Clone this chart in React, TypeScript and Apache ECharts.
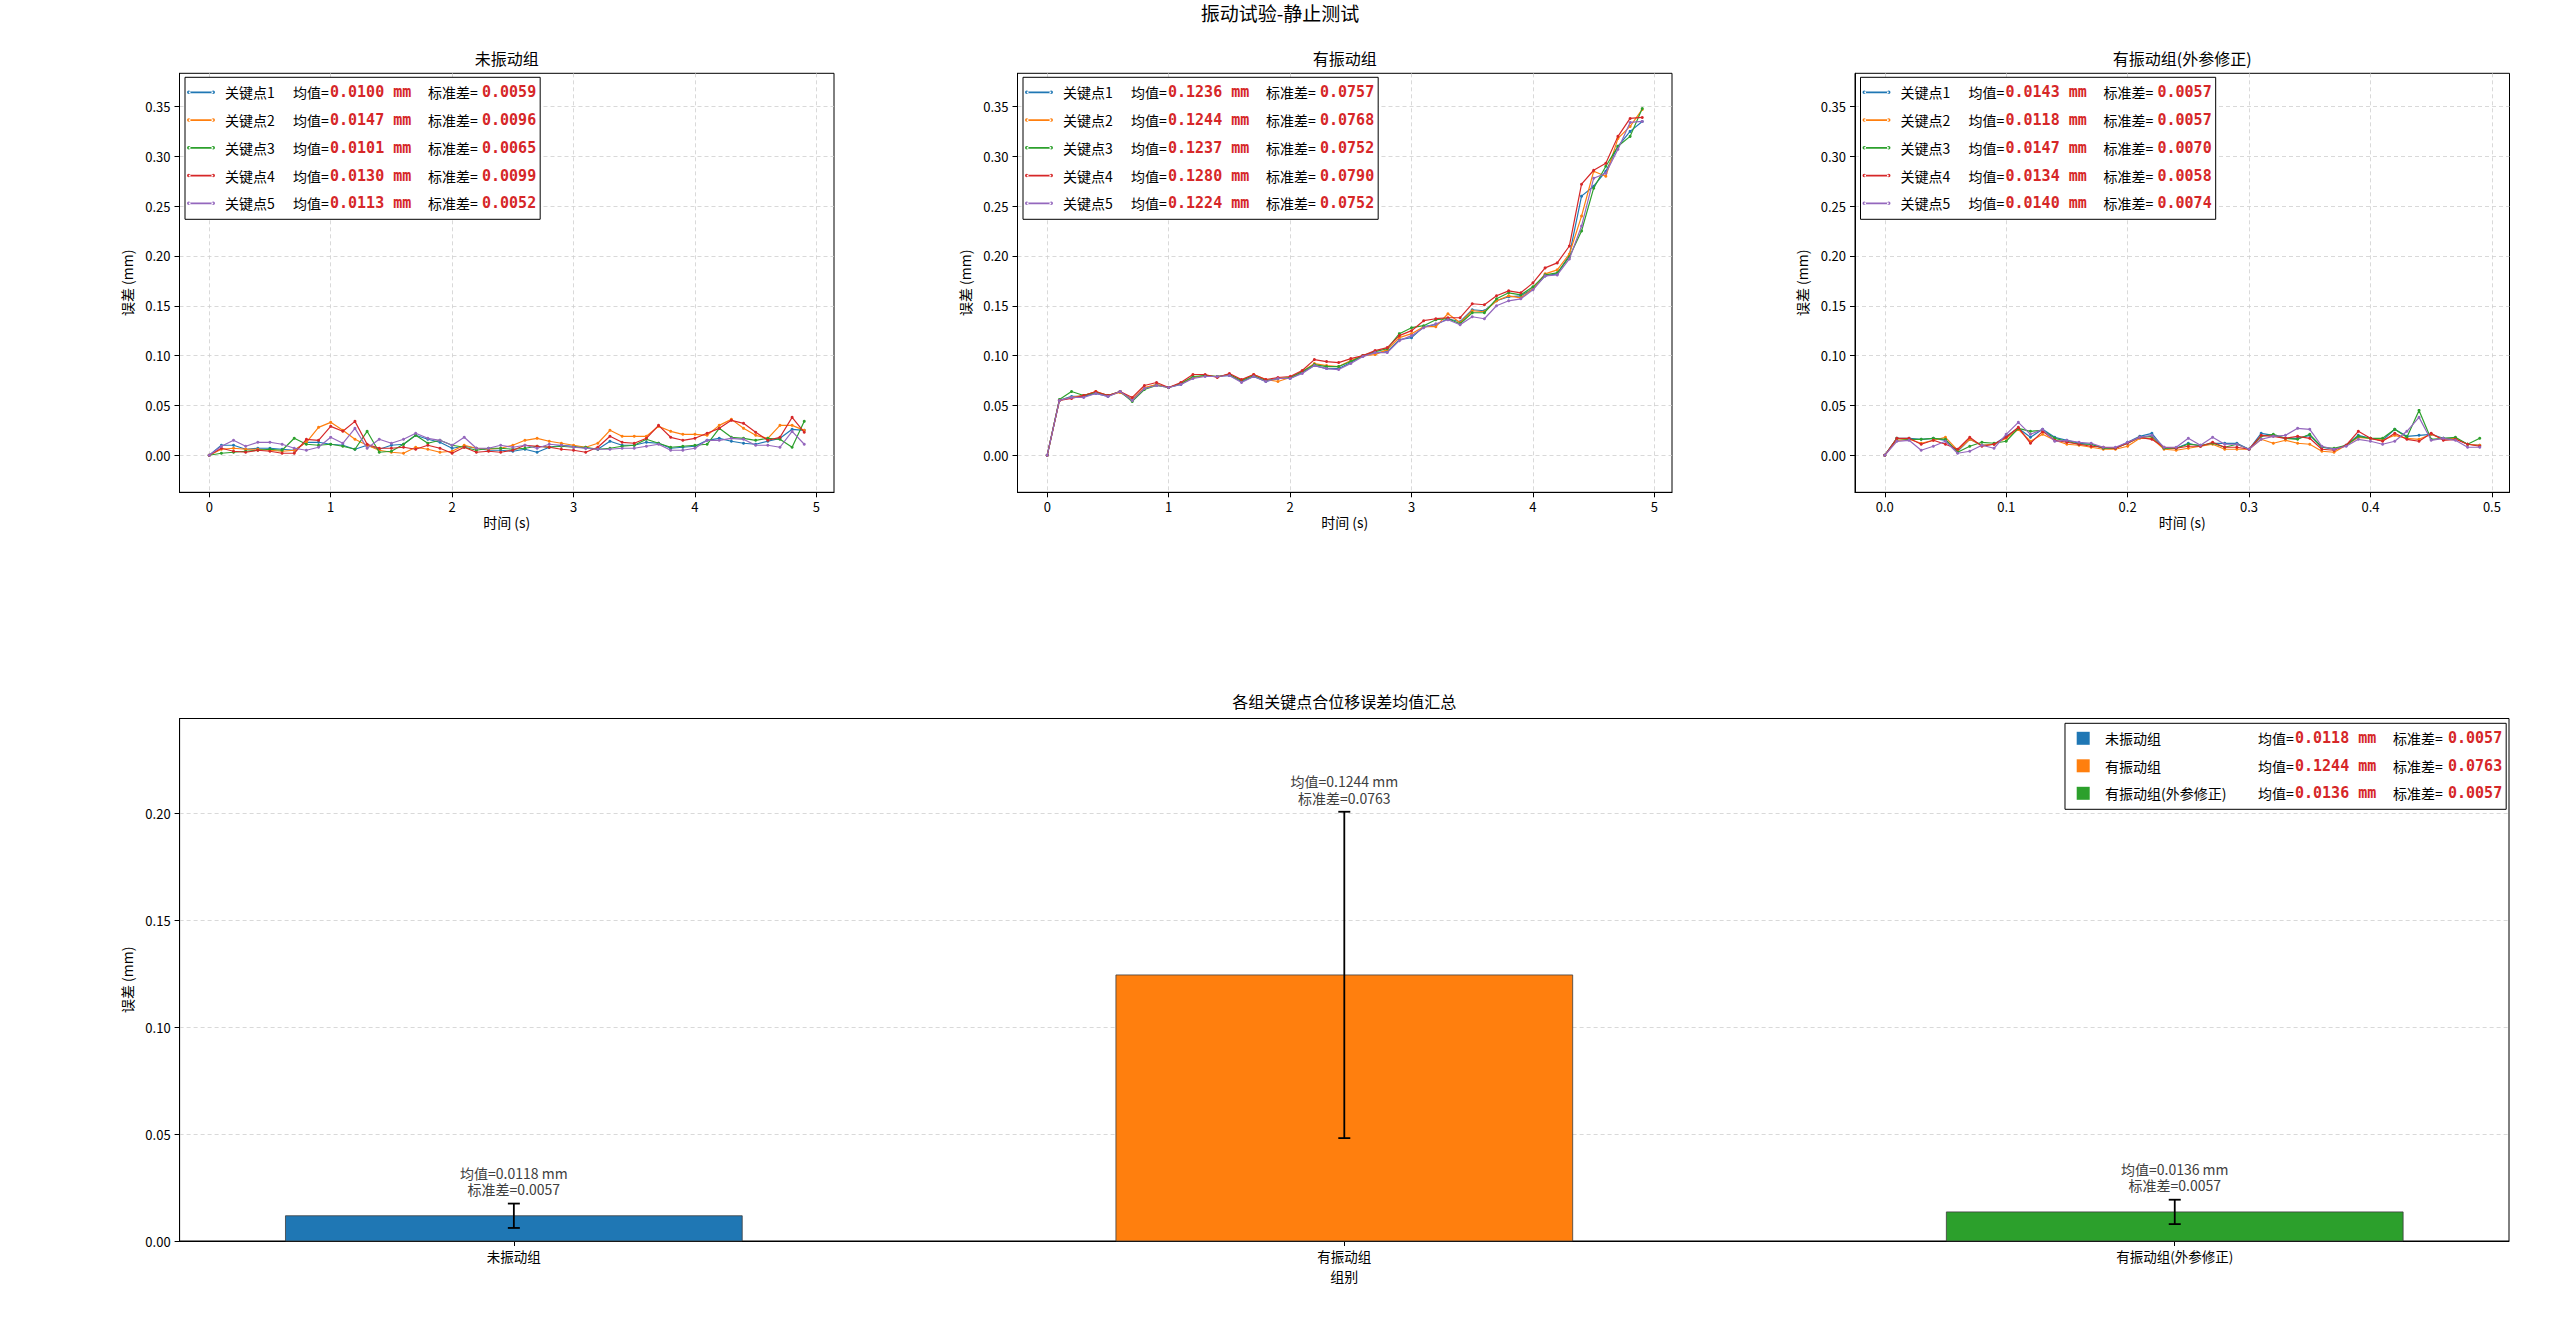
import React, { useEffect, useRef } from 'react';
import * as echarts from 'echarts';

// ---- time bases ----
const TIME_5S = [
  0, 0.1, 0.2, 0.3, 0.4, 0.5, 0.6, 0.7, 0.8, 0.9,
  1.0, 1.1, 1.2, 1.3, 1.4, 1.5, 1.6, 1.7, 1.8, 1.9,
  2.0, 2.1, 2.2, 2.3, 2.4, 2.5, 2.6, 2.7, 2.8, 2.9,
  3.0, 3.1, 3.2, 3.3, 3.4, 3.5, 3.6, 3.7, 3.8, 3.9,
  4.0, 4.1, 4.2, 4.3, 4.4, 4.5, 4.6, 4.7, 4.8, 4.9,
];
const TIME_05S = [
  0, 0.01, 0.02, 0.03, 0.04, 0.05, 0.06, 0.07, 0.08, 0.09,
  0.10, 0.11, 0.12, 0.13, 0.14, 0.15, 0.16, 0.17, 0.18, 0.19,
  0.20, 0.21, 0.22, 0.23, 0.24, 0.25, 0.26, 0.27, 0.28, 0.29,
  0.30, 0.31, 0.32, 0.33, 0.34, 0.35, 0.36, 0.37, 0.38, 0.39,
  0.40, 0.41, 0.42, 0.43, 0.44, 0.45, 0.46, 0.47, 0.48, 0.49,
];

const KEYPOINTS = ['关键点1', '关键点2', '关键点3', '关键点4', '关键点5'];
const COLORS = ['#1f77b4', '#ff7f0e', '#2ca02c', '#d62728', '#9467bd'];

// ---- 未振动组 ----
const STATIC_KP1 = [
  0, .010, .010, .006, .007, .007, .006, .005, .013, .013,
  .011, .010, .006, .010, .006, .010, .011, .020, .016, .013,
  .007, .009, .007, .005, .005, .004, .006, .003, .008, .010,
  .009, .007, .006, .014, .010, .010, .013, .012, .007, .008,
  .009, .015, .017, .014, .012, .011, .014, .017, .026, .025,
];
const STATIC_KP2 = [
  0, .006, .007, .006, .006, .005, .004, .005, .013, .028,
  .033, .025, .016, .010, .005, .003, .002, .008, .006, .003,
  .004, .010, .007, .006, .007, .010, .015, .017, .014, .012,
  .010, .008, .012, .025, .019, .019, .019, .029, .024, .021,
  .021, .020, .030, .036, .027, .020, .017, .030, .030, .025,
];
const STATIC_KP3 = [
  0, .002, .003, .004, .005, .006, .005, .017, .011, .010,
  .011, .009, .006, .024, .003, .004, .011, .020, .012, .015,
  .010, .008, .005, .007, .007, .006, .007, .009, .008, .009,
  .008, .008, .006, .007, .009, .010, .016, .012, .008, .009,
  .010, .011, .027, .018, .017, .015, .017, .016, .008, .034,
];
const STATIC_KP4 = [
  0, .007, .004, .003, .005, .004, .002, .002, .016, .015,
  .029, .024, .034, .011, .007, .007, .008, .006, .010, .007,
  .002, .008, .003, .004, .003, .005, .010, .009, .008, .006,
  .005, .003, .008, .019, .013, .012, .017, .030, .018, .015,
  .017, .022, .027, .035, .032, .023, .015, .018, .038, .023,
];
const STATIC_KP5 = [
  0, .009, .015, .009, .013, .013, .011, .007, .005, .008,
  .018, .012, .027, .007, .016, .012, .016, .022, .017, .015,
  .010, .018, .007, .007, .010, .008, .010, .007, .011, .010,
  .008, .007, .006, .006, .007, .007, .009, .011, .005, .005,
  .007, .015, .015, .017, .016, .010, .010, .008, .024, .011,
];
const STATIC_MEANS = [0.0100, 0.0147, 0.0101, 0.0130, 0.0113];
const STATIC_STDS = [0.0059, 0.0096, 0.0065, 0.0099, 0.0052];

// ---- 有振动组 ----
const VIB_KP1 = [
  0, .055, .059, .059, .062, .059, .064, .056, .067, .071,
  .068, .071, .078, .080, .079, .080, .074, .079, .074, .077,
  .077, .083, .090, .087, .087, .093, .100, .103, .104, .116,
  .118, .129, .131, .137, .134, .146, .145, .155, .159, .160,
  .167, .180, .182, .201, .260, .270, .285, .310, .325, .335,
];
const VIB_KP2 = [
  0, .055, .058, .060, .064, .060, .063, .056, .068, .071,
  .068, .072, .078, .080, .079, .081, .075, .081, .076, .074,
  .078, .084, .092, .090, .089, .095, .100, .101, .106, .118,
  .122, .129, .129, .142, .133, .145, .144, .155, .160, .158,
  .167, .182, .186, .202, .240, .285, .280, .318, .330, .347,
];
const VIB_KP3 = [
  0, .056, .064, .060, .063, .060, .064, .054, .066, .070,
  .068, .072, .079, .080, .079, .081, .075, .080, .075, .077,
  .078, .084, .091, .089, .089, .094, .100, .104, .107, .122,
  .128, .130, .136, .137, .132, .143, .143, .157, .163, .161,
  .169, .181, .183, .199, .225, .268, .290, .310, .320, .348,
];
const VIB_KP4 = [
  0, .055, .057, .060, .064, .060, .064, .058, .070, .073,
  .068, .073, .081, .081, .078, .082, .076, .081, .076, .078,
  .079, .085, .096, .094, .093, .097, .100, .105, .108, .120,
  .125, .135, .137, .138, .138, .152, .151, .160, .165, .163,
  .173, .188, .193, .210, .272, .286, .293, .320, .338, .339,
];
const VIB_KP5 = [
  0, .055, .058, .058, .062, .059, .064, .055, .067, .070,
  .068, .071, .077, .079, .079, .080, .073, .079, .074, .077,
  .077, .082, .090, .087, .086, .092, .099, .103, .103, .115,
  .120, .128, .132, .136, .131, .139, .137, .150, .155, .157,
  .166, .180, .181, .197, .230, .278, .283, .307, .334, .335,
];
const VIB_MEANS = [0.1236, 0.1244, 0.1237, 0.1280, 0.1224];
const VIB_STDS = [0.0757, 0.0768, 0.0752, 0.0790, 0.0752];

// ---- 有振动组(外参修正) ----
const CORR_KP1 = [
  0, .017, .017, .016, .017, .015, .004, .016, .010, .011,
  .019, .027, .018, .026, .018, .015, .012, .011, .007, .007,
  .013, .019, .022, .007, .007, .012, .009, .012, .012, .012,
  .006, .022, .020, .017, .017, .020, .008, .006, .010, .020,
  .017, .015, .026, .019, .020, .021, .017, .017, .011, .010,
];
const CORR_KP2 = [
  0, .015, .016, .012, .015, .018, .005, .016, .010, .011,
  .017, .026, .014, .021, .015, .011, .010, .008, .006, .006,
  .009, .017, .017, .006, .005, .007, .009, .011, .006, .006,
  .006, .016, .012, .015, .012, .011, .004, .003, .010, .018,
  .017, .015, .020, .017, .016, .021, .016, .017, .011, .010,
];
const CORR_KP3 = [
  0, .017, .016, .016, .017, .016, .003, .009, .013, .012,
  .014, .027, .024, .025, .017, .014, .011, .011, .007, .007,
  .012, .018, .019, .007, .007, .011, .010, .012, .008, .011,
  .006, .019, .021, .017, .016, .021, .008, .007, .010, .019,
  .017, .017, .026, .018, .045, .016, .017, .018, .011, .017,
];
const CORR_KP4 = [
  0, .017, .017, .011, .015, .011, .006, .018, .009, .011,
  .018, .028, .012, .024, .015, .013, .011, .009, .008, .007,
  .012, .018, .016, .008, .007, .009, .009, .013, .008, .008,
  .006, .020, .019, .017, .019, .017, .006, .005, .010, .024,
  .017, .014, .022, .016, .014, .022, .015, .016, .011, .009,
];
const CORR_KP5 = [
  0, .014, .015, .005, .009, .014, .002, .004, .010, .007,
  .021, .033, .021, .026, .014, .015, .013, .012, .008, .008,
  .013, .018, .020, .008, .008, .017, .010, .018, .011, .011,
  .006, .016, .019, .020, .027, .026, .009, .006, .009, .016,
  .014, .011, .014, .024, .038, .015, .017, .015, .008, .008,
];
const CORR_MEANS = [0.0143, 0.0118, 0.0147, 0.0134, 0.0140];
const CORR_STDS = [0.0057, 0.0057, 0.0070, 0.0058, 0.0074];

// ---- summary bars ----
const GROUP_NAMES = ['未振动组', '有振动组', '有振动组(外参修正)'];
const GROUP_MEANS = [0.0118, 0.1244, 0.0136];
const GROUP_STDS = [0.0057, 0.0763, 0.0057];
const GROUP_COLORS = ['#1f77b4', '#ff7f0e', '#2ca02c'];

// ---- ticks ----
const Y_TICKS_LINE = [0, 0.05, 0.1, 0.15, 0.2, 0.25, 0.3, 0.35];
const X_TICKS_5S = [0, 1, 2, 3, 4, 5];
const X_TICKS_05S = [0, 0.1, 0.2, 0.3, 0.4, 0.5];
const Y_TICKS_BAR = [0, 0.05, 0.1, 0.15, 0.2];
const X_TICKS_BAR = [0, 1, 2];

const CJK = '"Noto Sans CJK SC"';
const MONO = '"DejaVu Sans Mono"';
const RED = '#d62728';
const GRID_LINE = { color: '#cfcfcf', type: [4, 3] as number[], width: 0.8 };

// legend handle: a short line with a dot at each end
const LINE_HANDLE =
  'path://M1.8,1.15 L26.2,1.15 L26.2,2.85 L1.8,2.85 Z ' +
  'M0,2 a1.8,1.8 0 1,0 3.6,0 a1.8,1.8 0 1,0 -3.6,0 Z ' +
  'M24.4,2 a1.8,1.8 0 1,0 3.6,0 a1.8,1.8 0 1,0 -3.6,0 Z';

const PANELS = [
  { title: '未振动组', time: TIME_5S, xTicks: X_TICKS_5S, xMin: -0.245, xMax: 5.145, digits: 0,
    values: [STATIC_KP1, STATIC_KP2, STATIC_KP3, STATIC_KP4, STATIC_KP5], means: STATIC_MEANS, stds: STATIC_STDS },
  { title: '有振动组', time: TIME_5S, xTicks: X_TICKS_5S, xMin: -0.245, xMax: 5.145, digits: 0,
    values: [VIB_KP1, VIB_KP2, VIB_KP3, VIB_KP4, VIB_KP5], means: VIB_MEANS, stds: VIB_STDS },
  { title: '有振动组(外参修正)', time: TIME_05S, xTicks: X_TICKS_05S, xMin: -0.0245, xMax: 0.5145, digits: 1,
    values: [CORR_KP1, CORR_KP2, CORR_KP3, CORR_KP4, CORR_KP5], means: CORR_MEANS, stds: CORR_STDS },
];

const PANEL_LEFTS = [179.5, 1017.5, 1855];
const PANEL_W = 654.5;
const PANEL_TOP = 73.3;
const PANEL_H = 419;
const BAR_GRID = { left: 179.6, top: 718.5, width: 2329.4, height: 522.5 };
const BAR_WIDTH = 0.55;

const axisLine = { show: true, onZero: false, lineStyle: { color: '#000', width: 1 } };
const tickStyle = { color: '#000', width: 1 };

function buildOption() {
  const grid: any[] = [];
  const xAxis: any[] = [];
  const yAxis: any[] = [];
  const series: any[] = [];
  const legend: any[] = [];
  const graphic: any[] = [
    { type: 'text', x: 1280, y: 12, style: { text: '振动试验-静止测试', fontSize: 19, fontFamily: CJK, fill: '#000', align: 'center', verticalAlign: 'middle' } },
  ];

  const richLine = {
    sp: { width: 5 },
    n: { width: 68, fontSize: 14, fontFamily: CJK, color: '#000' },
    a: { width: 37, fontSize: 14, fontFamily: CJK, color: '#000' },
    v: { width: 98, fontSize: 15, fontFamily: MONO, fontWeight: 'bold', color: RED },
    b: { width: 54, fontSize: 14, fontFamily: CJK, color: '#000' },
    w: { width: 55, fontSize: 15, fontFamily: MONO, fontWeight: 'bold', color: RED },
  };

  PANELS.forEach((p, i) => {
    const left = PANEL_LEFTS[i];
    grid.push({ left, top: PANEL_TOP, width: PANEL_W, height: PANEL_H, show: true, borderColor: '#000', borderWidth: 1, backgroundColor: '#fff' });
    xAxis.push({
      type: 'value', gridIndex: i, min: p.xMin, max: p.xMax,
      axisLine,
      axisTick: { show: true, length: 5, lineStyle: tickStyle, customValues: p.xTicks },
      axisLabel: { customValues: p.xTicks, color: '#000', fontSize: 13, fontFamily: CJK, margin: 8,
        formatter: (v: number) => v.toFixed(p.digits) },
      splitLine: { show: true, lineStyle: GRID_LINE },
      name: '时间 (s)', nameLocation: 'middle', nameGap: 23,
      nameTextStyle: { color: '#000', fontSize: 14, fontFamily: CJK },
    });
    yAxis.push({
      type: 'value', gridIndex: i, min: -0.0372, max: 0.3833,
      axisLine,
      axisTick: { show: true, length: 5, lineStyle: tickStyle, customValues: Y_TICKS_LINE },
      axisLabel: { customValues: Y_TICKS_LINE, color: '#000', fontSize: 13, fontFamily: CJK, margin: 9,
        formatter: (v: number) => v.toFixed(2) },
      splitLine: { show: true, lineStyle: GRID_LINE },
      name: '误差 (mm)', nameLocation: 'middle', nameGap: 46, nameRotate: 90,
      nameTextStyle: { color: '#000', fontSize: 14, fontFamily: CJK },
    });

    const names: any[] = [];
    const labels: Record<string, string> = {};
    KEYPOINTS.forEach((kp, k) => {
      const name = `${p.title}·${kp}`;
      names.push({ name, icon: LINE_HANDLE, itemStyle: { color: COLORS[k], opacity: 1 } });
      labels[name] = `{sp| }{n|${kp}}{a|均值=}{v|${p.means[k].toFixed(4)} mm}{b|标准差=}{w|${p.stds[k].toFixed(4)}}`;
      series.push({
        type: 'line', name, xAxisIndex: i, yAxisIndex: i,
        data: p.time.map((t, j) => [t, p.values[k][j]]),
        symbol: 'circle', symbolSize: 3, showSymbol: true,
        lineStyle: { color: COLORS[k], width: 1.2 },
        itemStyle: { color: COLORS[k] },
        emphasis: { disabled: true },
        z: 3 + k,
      });
    });

    legend.push({
      left: left + 5.5, top: PANEL_TOP + 4, orient: 'vertical',
      data: names, selectedMode: false,
      itemWidth: 28, itemHeight: 4, itemGap: 12.75,
      padding: [7.5, 4, 8.5, 2],
      borderColor: '#000', borderWidth: 1, backgroundColor: '#fff', borderRadius: 0,
      formatter: (name: string) => labels[name],
      textStyle: { fontFamily: CJK, fontSize: 14, color: '#000', rich: richLine },
    });

    graphic.push({ type: 'text', x: left + PANEL_W / 2, y: 58.3,
      style: { text: p.title, fontSize: 16, fontFamily: CJK, fill: '#000', align: 'center', verticalAlign: 'middle' } });
  });

  // ---- summary bar chart ----
  grid.push({ ...BAR_GRID, show: true, borderColor: '#000', borderWidth: 1, backgroundColor: '#fff' });
  xAxis.push({
    type: 'value', gridIndex: 3, min: -0.4025, max: 2.4025,
    axisLine,
    axisTick: { show: true, length: 5, lineStyle: tickStyle, customValues: X_TICKS_BAR },
    axisLabel: { customValues: X_TICKS_BAR, color: '#000', fontSize: 13.5, fontFamily: CJK, margin: 8,
      formatter: (v: number) => GROUP_NAMES[Math.round(v)] },
    splitLine: { show: false },
    name: '组别', nameLocation: 'middle', nameGap: 28,
    nameTextStyle: { color: '#000', fontSize: 14, fontFamily: CJK },
  });
  yAxis.push({
    type: 'value', gridIndex: 3, min: 0, max: 0.2443,
    axisLine,
    axisTick: { show: true, length: 5, lineStyle: tickStyle, customValues: Y_TICKS_BAR },
    axisLabel: { customValues: Y_TICKS_BAR, color: '#000', fontSize: 13, fontFamily: CJK, margin: 9,
      formatter: (v: number) => v.toFixed(2) },
    splitLine: { show: true, lineStyle: GRID_LINE },
    name: '误差 (mm)', nameLocation: 'middle', nameGap: 45, nameRotate: 90,
    nameTextStyle: { color: '#000', fontSize: 14, fontFamily: CJK },
  });

  const barLabels: Record<string, string> = {};
  GROUP_NAMES.forEach((g, i) => {
    barLabels[g] = `{sp| }{n|${g}}{a|均值=}{v|${GROUP_MEANS[i].toFixed(4)} mm}{b|标准差=}{w|${GROUP_STDS[i].toFixed(4)}}`;
    series.push({
      type: 'custom', name: g, xAxisIndex: 3, yAxisIndex: 3,
      itemStyle: { color: GROUP_COLORS[i] },
      data: [[i, GROUP_MEANS[i], GROUP_STDS[i]]],
      encode: { x: 0, y: 1 },
      z: 3,
      renderItem: (_params: any, api: any) => {
        const x = api.value(0);
        const m = api.value(1);
        const s = api.value(2);
        const [cx, yTop] = api.coord([x, m]);
        const [, y0] = api.coord([x, 0]);
        const [, eTop] = api.coord([x, m + s]);
        const [, eBot] = api.coord([x, m - s]);
        const half = api.size([BAR_WIDTH, 0])[0] / 2;
        const cap = 6;
        return {
          type: 'group',
          children: [
            { type: 'rect', shape: { x: cx - half, y: yTop, width: half * 2, height: y0 - yTop },
              style: { fill: GROUP_COLORS[i], stroke: '#3c3c3c', lineWidth: 0.8 } },
            { type: 'line', shape: { x1: cx, y1: eTop, x2: cx, y2: eBot }, style: { stroke: '#000', lineWidth: 1.8 } },
            { type: 'line', shape: { x1: cx - cap, y1: eTop, x2: cx + cap, y2: eTop }, style: { stroke: '#000', lineWidth: 1.8 } },
            { type: 'line', shape: { x1: cx - cap, y1: eBot, x2: cx + cap, y2: eBot }, style: { stroke: '#000', lineWidth: 1.8 } },
            { type: 'text', x: cx, y: eTop - 6,
              style: { text: `均值=${m.toFixed(4)} mm\n标准差=${s.toFixed(4)}`, fontSize: 14, fontFamily: CJK,
                fill: '#404040', align: 'center', verticalAlign: 'bottom', lineHeight: 16.5 } },
          ],
        };
      },
    });
  });

  legend.push({
    left: 2065, top: 723.3, orient: 'vertical',
    data: GROUP_NAMES.map((g) => ({ name: g, icon: 'rect' })), selectedMode: false,
    itemWidth: 13, itemHeight: 13, itemGap: 12.5,
    padding: [7.5, 4, 8.5, 11.7],
    borderColor: '#000', borderWidth: 1, backgroundColor: '#fff', borderRadius: 0,
    formatter: (name: string) => barLabels[name],
    textStyle: {
      fontFamily: CJK, fontSize: 14, color: '#000',
      rich: { ...richLine, sp: { width: 10.3 }, n: { ...richLine.n, width: 153 }, b: { ...richLine.b, width: 55 } },
    },
  });

  graphic.push({ type: 'text', x: BAR_GRID.left + BAR_GRID.width / 2, y: 700.5,
    style: { text: '各组关键点合位移误差均值汇总', fontSize: 16, fontFamily: CJK, fill: '#000', align: 'center', verticalAlign: 'middle' } });

  return {
    animation: false,
    backgroundColor: '#fff',
    textStyle: { fontFamily: CJK },
    grid, xAxis, yAxis, series, legend, graphic,
  };
}

export default function App() {
  const ref = useRef<HTMLDivElement>(null);
  useEffect(() => {
    if (!ref.current) return;
    const chart = echarts.init(ref.current, undefined, { renderer: 'svg' });
    chart.setOption(buildOption() as any);
    return () => chart.dispose();
  }, []);
  return (
    <div
      ref={ref}
      style={{ position: 'fixed', left: 0, top: 0, width: 2560, height: 1321, background: '#fff' }}
    />
  );
}
